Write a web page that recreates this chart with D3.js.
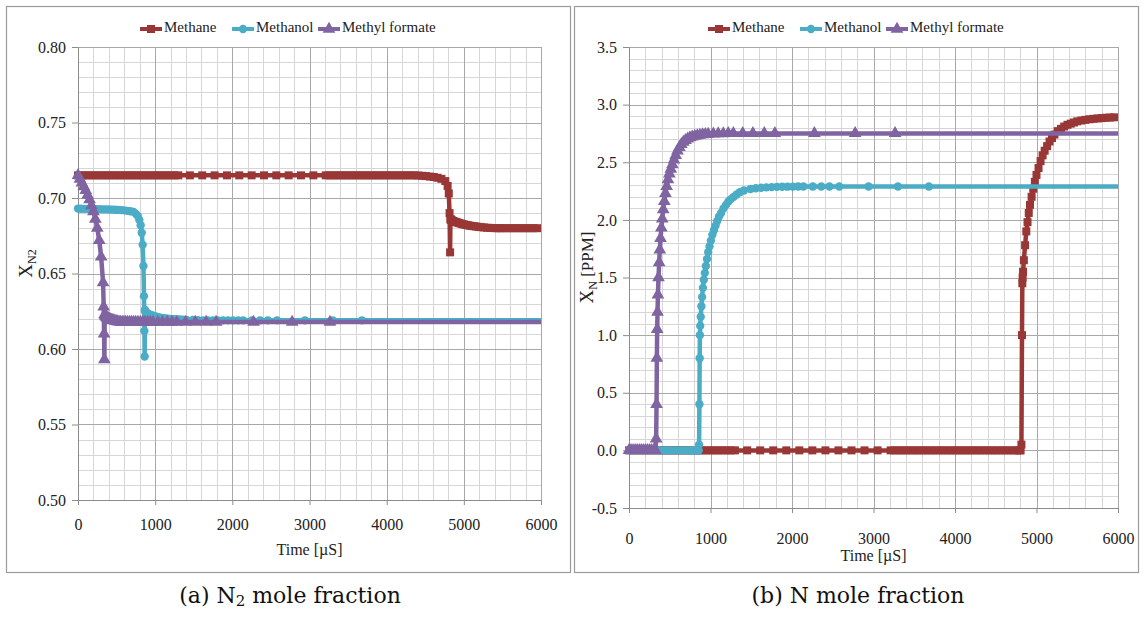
<!DOCTYPE html>
<html lang="en">
<head>
  <meta charset="UTF-8">
  <title>N2 and N mole fraction</title>
  <script src="https://d3js.org/d3.v7.min.js"></script>
  <style>
    body {
      margin: 0;
      background: #fff;
    }
    svg text {
      font-family: "Liberation Serif", "DejaVu Serif", serif;
    }
    svg text.caption {
      font-family: "DejaVu Serif", "Liberation Serif", serif;
    }
    .tick text {
      font-size: 16px;
      fill: #222;
    }
  </style>
</head>
<body>
  <svg width="1145" height="617" font-family="Liberation Serif, DejaVu Serif, serif"></svg>

  <script>
    // [time µs, X_N2, X_N ppm] for each fuel, same time points in both panels
    const methane = [
      [0, 0.715, 0], [50, 0.715, 0], [100, 0.715, 0], [150, 0.715, 0], [200, 0.715, 0], [250, 0.715, 0],
      [300, 0.715, 0], [350, 0.715, 0], [400, 0.715, 0], [450, 0.715, 0], [500, 0.715, 0], [550, 0.715, 0],
      [600, 0.715, 0], [650, 0.715, 0], [700, 0.715, 0], [750, 0.715, 0], [800, 0.715, 0], [850, 0.715, 0],
      [900, 0.715, 0], [950, 0.715, 0], [1000, 0.715, 0], [1050, 0.715, 0], [1100, 0.715, 0], [1150, 0.715, 0],
      [1200, 0.715, 0], [1250, 0.715, 0], [1300, 0.715, 0],
      [1450, 0.715, 0], [1610, 0.715, 0], [1770, 0.715, 0], [1930, 0.715, 0], [2090, 0.715, 0], [2250, 0.715, 0],
      [2410, 0.715, 0], [2570, 0.715, 0], [2730, 0.715, 0], [2890, 0.715, 0], [3050, 0.715, 0], [3210, 0.715, 0],
      [3260, 0.715, 0], [3310, 0.715, 0], [3360, 0.715, 0], [3410, 0.715, 0], [3460, 0.715, 0], [3510, 0.715, 0],
      [3560, 0.715, 0], [3610, 0.715, 0], [3660, 0.715, 0], [3710, 0.715, 0], [3760, 0.715, 0], [3810, 0.715, 0],
      [3860, 0.715, 0], [3910, 0.715, 0], [3960, 0.715, 0], [4010, 0.715, 0], [4060, 0.715, 0], [4110, 0.715, 0],
      [4160, 0.715, 0], [4210, 0.715, 0], [4260, 0.715, 0], [4310, 0.715, 0], [4360, 0.715, 0], [4410, 0.7149, 0],
      [4460, 0.7147, 0], [4510, 0.7145, 0], [4560, 0.7142, 0], [4610, 0.7139, 0], [4660, 0.7134, 0], [4710, 0.7127, 0],
      [4760, 0.7112, 0], [4790, 0.708, 0], [4805, 0.703, 0], [4815, 0.690, 0.05], [4822, 0.664, 1.0],
      [4826, 0.686, 1.45], [4830, 0.6857, 1.5], [4835, 0.6855, 1.55], [4845, 0.6852, 1.65], [4860, 0.6848, 1.78],
      [4875, 0.6845, 1.9], [4890, 0.6842, 1.98], [4905, 0.684, 2.06], [4920, 0.6837, 2.13], [4940, 0.6834, 2.2],
      [4960, 0.6831, 2.27], [4980, 0.6828, 2.33], [5000, 0.6825, 2.39], [5025, 0.6822, 2.45], [5050, 0.682, 2.51],
      [5075, 0.6817, 2.56], [5100, 0.6815, 2.6], [5130, 0.6813, 2.64], [5160, 0.6811, 2.68], [5190, 0.6809, 2.71],
      [5220, 0.6807, 2.74], [5260, 0.6805, 2.77], [5300, 0.6803, 2.79], [5340, 0.6802, 2.81], [5380, 0.6801, 2.825],
      [5420, 0.680, 2.835], [5460, 0.680, 2.845], [5500, 0.680, 2.855], [5550, 0.680, 2.862], [5600, 0.680, 2.868],
      [5650, 0.680, 2.873], [5700, 0.680, 2.877], [5750, 0.680, 2.88], [5800, 0.680, 2.883], [5850, 0.680, 2.886],
      [5900, 0.680, 2.888], [5950, 0.680, 2.89], [6000, 0.680, 2.89]
    ];

    const methanol = [
      [0, 0.693, 0], [40, 0.6929, 0], [80, 0.6928, 0], [120, 0.6928, 0], [160, 0.6927, 0], [200, 0.6927, 0],
      [240, 0.6926, 0], [280, 0.6926, 0], [320, 0.6925, 0], [360, 0.6925, 0], [400, 0.6924, 0], [440, 0.6923, 0],
      [480, 0.6922, 0], [520, 0.6921, 0], [560, 0.692, 0], [600, 0.6918, 0], [640, 0.6915, 0], [680, 0.6912, 0],
      [720, 0.6908, 0], [750, 0.6895, 0], [775, 0.688, 0], [795, 0.6855, 0], [812, 0.682, 0], [826, 0.677, 0],
      [838, 0.669, 0], [848, 0.655, 0], [855, 0.635, 0], [860, 0.612, 0.05], [864, 0.595, 0.4], [867, 0.626, 0.8],
      [870, 0.625, 1.0], [874, 0.6247, 1.08], [880, 0.6244, 1.16], [888, 0.624, 1.25], [897, 0.6237, 1.33],
      [907, 0.6234, 1.41], [918, 0.6231, 1.48], [930, 0.6228, 1.54], [943, 0.6225, 1.6], [957, 0.6222, 1.66],
      [972, 0.622, 1.72], [988, 0.6217, 1.77], [1005, 0.6215, 1.82], [1023, 0.6212, 1.87], [1042, 0.621, 1.91],
      [1062, 0.6208, 1.95], [1083, 0.6206, 1.99], [1105, 0.6204, 2.03], [1130, 0.6202, 2.06], [1160, 0.62, 2.1],
      [1190, 0.6199, 2.13], [1220, 0.6198, 2.16], [1250, 0.6197, 2.18], [1285, 0.6196, 2.2], [1320, 0.6195, 2.22],
      [1360, 0.6194, 2.24], [1410, 0.6193, 2.255], [1490, 0.6192, 2.268], [1555, 0.6191, 2.274], [1620, 0.619, 2.279],
      [1685, 0.619, 2.282], [1750, 0.619, 2.284], [1815, 0.619, 2.286], [1880, 0.619, 2.287], [1945, 0.619, 2.288],
      [2010, 0.619, 2.289], [2075, 0.619, 2.29], [2140, 0.619, 2.29], [2255, 0.619, 2.29], [2360, 0.619, 2.29],
      [2460, 0.619, 2.29], [2580, 0.619, 2.29], [2940, 0.619, 2.29], [3300, 0.619, 2.29], [3680, 0.619, 2.29],
      [6000, 0.619, 2.29]
    ];

    const methylFormate = [
      [0, 0.715, 0], [25, 0.7125, 0], [50, 0.710, 0], [75, 0.7075, 0], [100, 0.705, 0], [125, 0.702, 0],
      [150, 0.699, 0], [175, 0.695, 0], [200, 0.691, 0], [225, 0.686, 0], [250, 0.680, 0], [275, 0.672, 0],
      [300, 0.661, 0], [325, 0.644, 0], [333, 0.628, 0.1], [338, 0.61, 0.4], [342, 0.593, 0.8], [346, 0.623, 1.05],
      [350, 0.6225, 1.2], [355, 0.622, 1.35], [362, 0.6215, 1.5], [370, 0.621, 1.63], [378, 0.6207, 1.74],
      [387, 0.6204, 1.84], [397, 0.6201, 1.93], [408, 0.6198, 2.01], [420, 0.6195, 2.09], [433, 0.6192, 2.16],
      [447, 0.619, 2.23], [462, 0.6188, 2.29], [478, 0.6186, 2.35], [495, 0.6184, 2.4], [513, 0.6182, 2.44],
      [532, 0.618, 2.48], [552, 0.6178, 2.52], [573, 0.6178, 2.56], [595, 0.6178, 2.6], [618, 0.6178, 2.63],
      [642, 0.6178, 2.655], [667, 0.6178, 2.675], [693, 0.6178, 2.69], [720, 0.6178, 2.703], [748, 0.6178, 2.713],
      [777, 0.6178, 2.72], [807, 0.6178, 2.727], [838, 0.6178, 2.732], [870, 0.6178, 2.736], [903, 0.6178, 2.74],
      [937, 0.6178, 2.742], [972, 0.6178, 2.744], [1035, 0.6178, 2.746], [1095, 0.6178, 2.748], [1157, 0.6178, 2.749],
      [1218, 0.6178, 2.75], [1280, 0.6178, 2.75], [1395, 0.6178, 2.75], [1520, 0.6178, 2.75], [1660, 0.6178, 2.75],
      [1790, 0.6178, 2.75], [2275, 0.6178, 2.75], [2775, 0.6178, 2.75], [3265, 0.6178, 2.75], [6000, 0.6178, 2.75]
    ];

    const seriesNames = ["Methane", "Methanol", "Methyl formate"];
    const seriesData = [methane, methanol, methylFormate];
    const seriesColors = ["#983735", "#4BACC6", "#8064A2"];
    const seriesShapes = [d3.symbolSquare, d3.symbolCircle, d3.symbolTriangle];
    const seriesSizes = [64, 55, 70];

    const xTicks = [0, 1000, 2000, 3000, 4000, 5000, 6000];
    const yTicksA = [0.50, 0.55, 0.60, 0.65, 0.70, 0.75, 0.80];
    const yTicksB = [-0.5, 0.0, 0.5, 1.0, 1.5, 2.0, 2.5, 3.0, 3.5];

    const panels = [
      {
        frame: [6, 6, 564, 566],
        x: d3.scaleLinear().domain([0, 6000]).range([78, 541]),
        y: d3.scaleLinear().domain([0.5, 0.8]).range([500, 47]),
        col: 1,
        yTicks: yTicksA, yMinor: 0.01, fmt: d3.format(".2f"),
        xLabelY: 523, titleY: 551,
        legendX: 140,
        yTitleX: 28, yTitleSub: "N2", yTitleRest: "",
        caption: "(a) N", captionSub: "2", captionRest: " mole fraction", captionX: 290
      },
      {
        frame: [574, 6, 564, 566],
        x: d3.scaleLinear().domain([0, 6000]).range([629, 1118]),
        y: d3.scaleLinear().domain([-0.5, 3.5]).range([508, 47]),
        col: 2,
        yTicks: yTicksB, yMinor: 0.1, fmt: d3.format(".1f"),
        xLabelY: 537, titleY: 557,
        legendX: 708,
        yTitleX: 589, yTitleSub: "N", yTitleRest: " [PPM]",
        caption: "(b) N mole fraction", captionSub: "", captionRest: "", captionX: 858
      }
    ];

    const svg = d3.select("svg");

    panels.forEach(p => {
      const [x0, x1] = p.x.range();
      const [yb, yt] = p.y.range();
      const g = svg.append("g");

      // frame
      g.append("rect")
        .attr("x", p.frame[0] + 0.5).attr("y", p.frame[1] + 0.5)
        .attr("width", p.frame[2]).attr("height", p.frame[3])
        .attr("fill", "none").attr("stroke", "#9a9a9a").attr("stroke-width", 1.2);

      // minor grid
      const [d0, d1] = p.y.domain();
      const yMinorVals = d3.range(Math.round((d1 - d0) / p.yMinor) + 1).map(i => d0 + i * p.yMinor);
      const xMinorVals = d3.range(0, 6001, 200);
      g.append("g").selectAll("line").data(xMinorVals).join("line")
        .attr("x1", d => Math.round(p.x(d)) + 0.5).attr("x2", d => Math.round(p.x(d)) + 0.5)
        .attr("y1", yt).attr("y2", yb)
        .attr("stroke", "#d6d6d6").attr("stroke-width", 1);
      g.append("g").selectAll("line").data(yMinorVals).join("line")
        .attr("x1", x0).attr("x2", x1)
        .attr("y1", d => Math.round(p.y(d)) + 0.5).attr("y2", d => Math.round(p.y(d)) + 0.5)
        .attr("stroke", "#d6d6d6").attr("stroke-width", 1);

      // major grid
      g.append("g").selectAll("line").data(xTicks).join("line")
        .attr("x1", d => Math.round(p.x(d)) + 0.5).attr("x2", d => Math.round(p.x(d)) + 0.5)
        .attr("y1", yt).attr("y2", yb)
        .attr("stroke", "#a8a8a8").attr("stroke-width", 1);
      g.append("g").selectAll("line").data(p.yTicks).join("line")
        .attr("x1", x0).attr("x2", x1)
        .attr("y1", d => Math.round(p.y(d)) + 0.5).attr("y2", d => Math.round(p.y(d)) + 0.5)
        .attr("stroke", "#a8a8a8").attr("stroke-width", 1);

      // axes
      const yAxis = g.append("g")
        .attr("transform", `translate(${x0},0)`)
        .call(d3.axisLeft(p.y).tickValues(p.yTicks)
          .tickFormat(d => p.fmt(d).replace("−", "-")).tickSize(6).tickPadding(6))
        .attr("font-family", null).attr("font-size", null);
      yAxis.select(".domain").attr("stroke", "#8c8c8c");
      yAxis.selectAll(".tick line").attr("stroke", "#8c8c8c");

      const xAxis = g.append("g")
        .attr("transform", `translate(0,${yb})`)
        .call(d3.axisBottom(p.x).tickValues(xTicks).tickFormat(d3.format("d")).tickSize(5).tickPadding(p.xLabelY - yb - 9))
        .attr("font-family", null).attr("font-size", null);
      xAxis.select(".domain").attr("stroke", "#8c8c8c");
      xAxis.selectAll(".tick line").attr("stroke", "#8c8c8c");

      // x title
      g.append("text")
        .attr("x", (x0 + x1) / 2).attr("y", p.titleY)
        .attr("text-anchor", "middle").attr("dominant-baseline", "middle")
        .attr("font-size", 16).attr("fill", "#222")
        .text("Time [µS]");

      // y title
      const yt2 = g.append("text")
        .attr("transform", `translate(${p.yTitleX},${(yt + yb) / 2 - 10}) rotate(-90)`)
        .attr("text-anchor", "middle").attr("dominant-baseline", "middle")
        .attr("font-size", 19).attr("fill", "#222");
      yt2.append("tspan").text("X");
      yt2.append("tspan").attr("font-size", 12).attr("dy", 5).text(p.yTitleSub);
      if (p.yTitleRest) yt2.append("tspan").attr("dy", -5).attr("font-size", 17).text(p.yTitleRest);

      // series
      const clipId = "clip" + p.col;
      g.append("clipPath").attr("id", clipId).append("rect")
        .attr("x", x0 - 10).attr("y", yt - 10).attr("width", x1 - x0 + 10).attr("height", yb - yt + 20);

      const line = d3.line().x(d => p.x(d[0])).y(d => p.y(d[p.col]));
      seriesData.forEach((data, i) => {
        const sg = g.append("g").attr("clip-path", `url(#${clipId})`);
        sg.append("path")
          .datum(data)
          .attr("d", line)
          .attr("fill", "none")
          .attr("stroke", seriesColors[i])
          .attr("stroke-width", 4.5)
          .attr("stroke-linejoin", "round");
        sg.selectAll("path.m").data(data.filter(d => d[0] < 6000)).join("path")
          .attr("class", "m")
          .attr("transform", d => `translate(${p.x(d[0])},${p.y(d[p.col])})`)
          .attr("d", d3.symbol().type(seriesShapes[i]).size(seriesSizes[i]))
          .attr("fill", seriesColors[i]);
      });

      // legend
      const legendW = [92, 86, 0];
      let lx = p.legendX;
      seriesNames.forEach((name, i) => {
        const lg = g.append("g").attr("transform", `translate(${lx},29)`);
        lg.append("line").attr("x1", 0).attr("x2", 22)
          .attr("stroke", seriesColors[i]).attr("stroke-width", 4);
        lg.append("path").attr("transform", "translate(11,0)")
          .attr("d", d3.symbol().type(seriesShapes[i]).size(seriesSizes[i]))
          .attr("fill", seriesColors[i]);
        lg.append("text").attr("x", 24).attr("dominant-baseline", "middle")
          .attr("font-size", 15).attr("fill", "#222").text(name);
        lx += legendW[i];
      });

      // caption
      const cap = svg.append("text")
        .attr("class", "caption")
        .attr("x", p.captionX).attr("y", 597)
        .attr("text-anchor", "middle").attr("dominant-baseline", "middle")
        .attr("font-size", 22).attr("fill", "#111");
      cap.append("tspan").text(p.caption);
      if (p.captionSub) {
        cap.append("tspan").attr("font-size", 15).attr("dy", 5).text(p.captionSub);
        cap.append("tspan").attr("dy", -5).text(p.captionRest);
      }
    });
  </script>
</body>
</html>
